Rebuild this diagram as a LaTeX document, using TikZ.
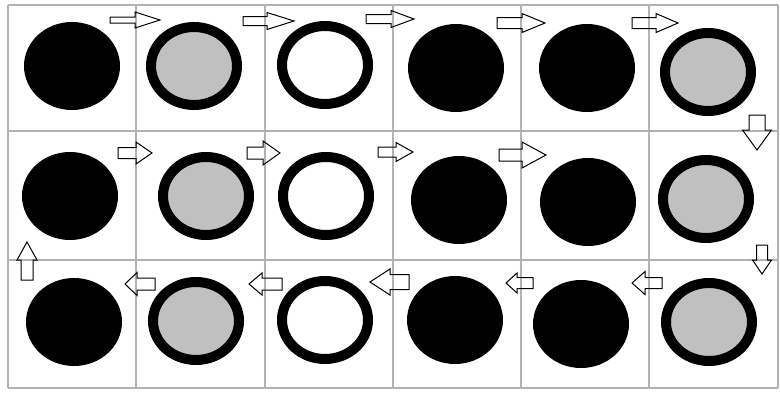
\documentclass[tikz,border=0pt]{standalone}
\usetikzlibrary{shapes.geometric}
\definecolor{silver}{RGB}{192,192,192}
\definecolor{gridgray}{RGB}{178,178,178}
\tikzset{
  disc/.style={ellipse, fill=black, minimum width=96, minimum height=88, inner sep=0pt},
  ring/.style={ellipse, draw=black, line width=10pt, minimum width=86, minimum height=78, inner sep=0pt, fill=white},
  grayring/.style={ring, fill=silver},
  gridline/.style={draw=gridgray, line width=2pt},
  blockarrow/.style={draw=black, line width=1pt, line join=miter}
}
% tail x, tail y, angle, length, shaft width, head width, head length
\newcommand\blk[7]{\draw[blockarrow, shift={(#1,#2)}, rotate=#3]
  (0,{-#5/2}) -- ({#4-#7},{-#5/2}) -- ({#4-#7},{-#6/2}) -- (#4,0) --
  ({#4-#7},{#6/2}) -- ({#4-#7},{#5/2}) -- (0,{#5/2}) -- cycle;}
\begin{document}
\begin{tikzpicture}[x=1pt,y=-1pt]
\useasboundingbox (0,0) rectangle (780,394);
\fill[white] (0,0) rectangle (780,394);
% grid
\foreach \x in {8,136,265,393,521,649,778} \draw[gridline] (\x,5) -- (\x,388);
\foreach \y in {5,131,260,388} \draw[gridline] (8,\y) -- (778,\y);
% row 1
\node[disc]     (a1) at (72,66) {};
\node[grayring] (a2) at (194,66) {};
\node[ring]     (a3) at (325,65) {};
\node[disc]     (a4) at (456,68) {};
\node[disc]     (a5) at (587,68) {};
\node[grayring] (a6) at (708,72) {};
% row 2
\node[disc]     (b1) at (70,196) {};
\node[grayring] (b2) at (206,196) {};
\node[ring]     (b3) at (326,196) {};
\node[disc]     (b4) at (459,200) {};
\node[disc]     (b5) at (588,202) {};
\node[grayring] (b6) at (706,199) {};
% row 3
\node[disc]     (c1) at (74,322) {};
\node[grayring] (c2) at (196,321) {};
\node[ring]     (c3) at (325,320) {};
\node[disc]     (c4) at (455,320) {};
\node[disc]     (c5) at (581,324) {};
\node[grayring] (c6) at (709,322) {};
% row 1 arrows (right)
\blk{110}{20}{0}{50}{6}{16}{25}
\blk{243}{21}{0}{51}{9}{17}{27}
\blk{366}{19}{0}{48}{9}{17}{23}
\blk{497}{23}{0}{48}{11}{19}{23}
\blk{632}{23}{0}{46}{11}{19}{22}
% down arrows
\blk{757}{115}{-90}{35}{16}{29}{20}
\blk{762}{245}{-90}{29}{11}{19}{14}
% row 2 arrows (right)
\blk{118}{153}{0}{34}{11}{22}{16}
\blk{247}{153}{0}{33}{12}{24}{17}
\blk{378}{152}{0}{35}{10}{19}{17}
\blk{499}{155}{0}{47}{12}{26}{24}
% row 3 arrows (left)
\blk{155}{284}{180}{30}{12}{23}{12}
\blk{282}{284}{180}{33}{12}{22}{13}
\blk{409}{282}{180}{39}{15}{26}{20}
\blk{533}{283}{180}{27}{11}{20}{11}
\blk{662}{283}{180}{30}{11}{23}{13}
% up arrow
\blk{27}{280}{90}{38}{12}{20}{18}
\end{tikzpicture}
\end{document}
